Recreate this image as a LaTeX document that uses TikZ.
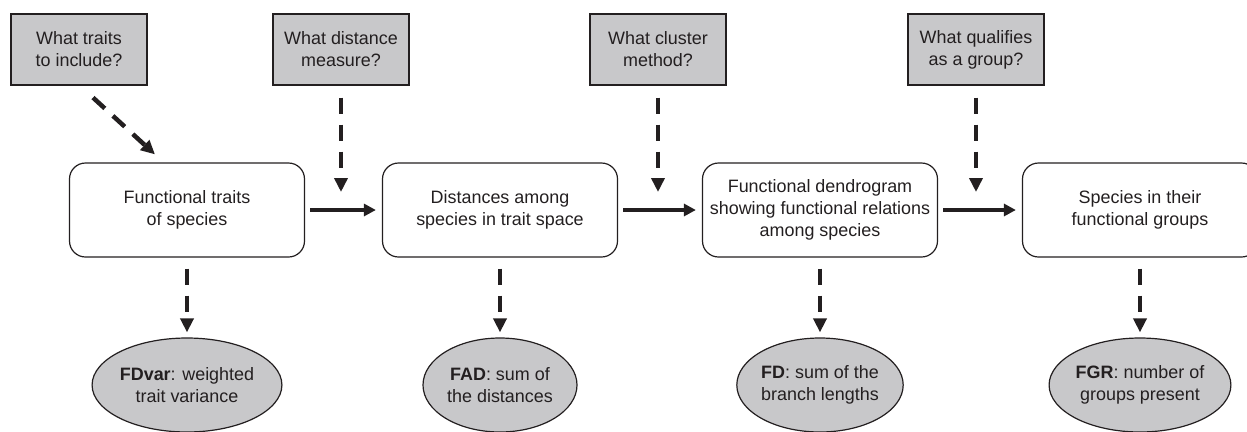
\documentclass[tikz,border=0pt]{standalone}
\usepackage{fontspec}
\setmainfont{Liberation Sans}
\usetikzlibrary{arrows.meta,shapes.geometric}
\definecolor{boxgray}{RGB}{200,200,202}
\definecolor{ink}{RGB}{35,31,32}
\begin{document}
\begin{tikzpicture}[x=1bp,y=-1bp,
  every node/.style={font=\fontsize{18}{22}\selectfont, text=ink, align=center},
  question/.style={draw=ink, line width=1.2bp, fill=boxgray, minimum width=136bp, minimum height=71bp, inner sep=0pt},
  stage/.style={draw=ink, line width=1.2bp, rounded corners=16bp, minimum width=235bp, minimum height=94bp, inner sep=0pt},
  measure/.style={ellipse, draw=ink, line width=1.2bp, fill=boxgray, minimum width=154bp, minimum height=94bp, inner sep=0pt},
  flow/.style={draw=ink, line width=3.2bp, -{Triangle[length=12bp,width=12bp]}, shorten <=5bp, shorten >=6bp},
  ask/.style={draw=ink, line width=4.5bp, dash pattern=on 16bp off 11bp, -{Triangle[length=14bp,width=13bp]}},
]
\useasboundingbox (0,0) rectangle (1247,431);
\clip (0,0) rectangle (1247,431);

% question boxes
\node[question] (q1) at (79,49.5) {What traits\\to include?};
\node[question] (q2) at (341,49.5) {What distance\\measure?};
\node[question] (q3) at (658,49.5) {What cluster\\method?};
\node[question] (q4) at (976,49.5) {What qualifies\\as a group?};

% stage boxes
\node[stage] (A) at (187,210) {Functional traits\\of species};
\node[stage] (B) at (500,210) {Distances among\\species in trait space};
\node[stage] (C) at (820,210) {Functional dendrogram\\showing functional relations\\among species};
\node[stage] (D) at (1140,210) {Species in their\\functional groups};

% measures
\node[measure] (m1) at (187,385) {\textbf{FDvar}: weighted\\trait variance};
\node[measure] (m2) at (500,385) {\textbf{FAD}: sum of\\the distances};
\node[measure] (m3) at (820,385) {\textbf{FD}: sum of the\\branch lengths};
\node[measure] (m4) at (1140,385) {\textbf{FGR}: number of\\groups present};

% targets of question arrows
\coordinate (t2) at (341,192);
\coordinate (t3) at (658,192);
\coordinate (t4) at (976,192);

% flow arrows
\draw[flow] (A) -- (B);
\draw[flow] (B) -- (C);
\draw[flow] (C) -- (D);

% question arrows
\draw[ask] ([shift={(14,12)}]q1.south) -- ([shift={(-32,-8)}]A.north);
\draw[ask, shorten <=12bp] (q2) -- (t2);
\draw[ask, shorten <=12bp] (q3) -- (t3);
\draw[ask, shorten <=12bp] (q4) -- (t4);

% measure arrows
\draw[ask, shorten <=11bp, shorten >=5bp] (A) -- (m1);
\draw[ask, shorten <=11bp, shorten >=5bp] (B) -- (m2);
\draw[ask, shorten <=11bp, shorten >=5bp] (C) -- (m3);
\draw[ask, shorten <=11bp, shorten >=5bp] (D) -- (m4);
\end{tikzpicture}
\end{document}
